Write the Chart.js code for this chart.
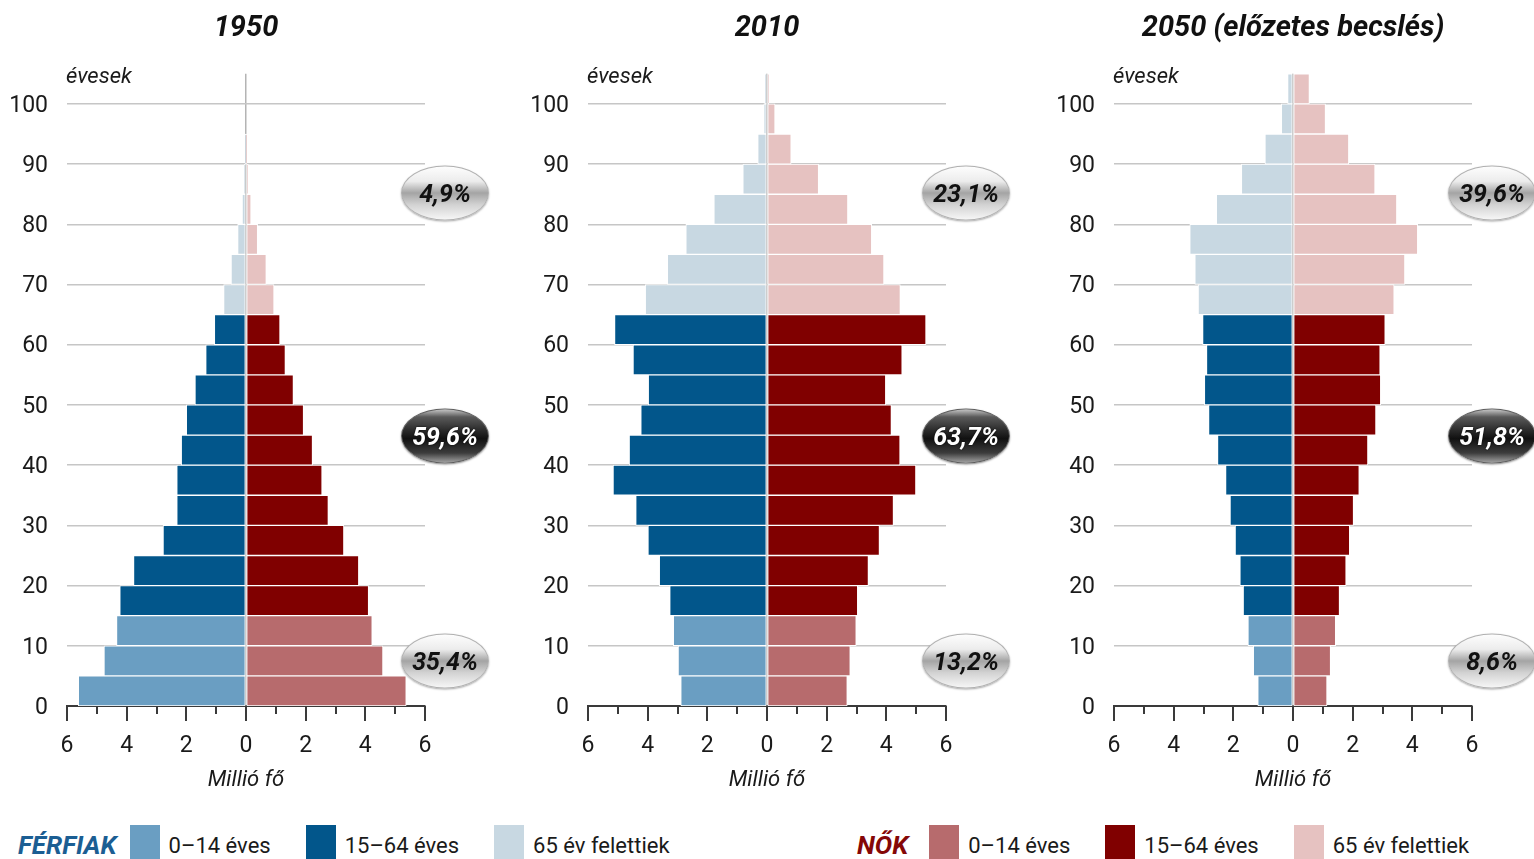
<!DOCTYPE html>
<html lang="hu">
<head>
<meta charset="utf-8">
<title>Korfa 1950, 2010, 2050</title>
<script src="https://cdn.jsdelivr.net/npm/chart.js@4.4.1/dist/chart.umd.min.js"></script>
<style>
  html, body { margin: 0; padding: 0; background: #fff; }
  body { position: relative; width: 1534px; height: 859px; overflow: hidden; font-family: Roboto, sans-serif; color: #1a1a1a; }
  canvas { position: absolute; top: 0; }
  .badge {
    position: absolute; width: 88px; height: 55px; border-radius: 50%;
    transform: translate(-50%, -50%); display: flex; align-items: center; justify-content: center;
    font: italic 700 25px Roboto, sans-serif; box-sizing: border-box;
  }
  .badge.light {
    background: linear-gradient(to bottom, #fdfdfd 0%, #ececec 28%, #a4a4a4 50%, #d2d2d2 72%, #f6f6f6 100%);
    border: 1px solid #b0b0b0; color: #111; box-shadow: 0 1px 2px rgba(0,0,0,.35);
  }
  .badge.dark {
    background: linear-gradient(to bottom, #c4c4c4 0%, #5a5a5a 14%, #262626 42%, #111 55%, #3c3c3c 82%, #a0a0a0 100%);
    border: 1px solid #5e5e5e; color: #fff; box-shadow: 0 1px 2px rgba(0,0,0,.45);
    text-shadow: 0 0 2px #000;
  }
  .legend { position: absolute; top: 825px; height: 34px; display: flex; align-items: flex-start; font-size: 22px; }
  .legend b { font: italic 700 26px Roboto, sans-serif; margin-right: 13px; padding-top: 5px; }
  .legend i { display: inline-block; width: 30px; height: 34px; margin-right: 9px; }
  .legend span { margin-right: 35px; padding-top: 8px; }
</style>
</head>
<body>
<canvas id="c0" width="492" height="796" style="left:0px"></canvas>
<canvas id="c1" width="492" height="796" style="left:521px"></canvas>
<canvas id="c2" width="492" height="796" style="left:1047px"></canvas>

<div class="legend" style="left:18px">
  <b style="color:#1b5e93">FÉRFIAK</b>
  <i style="background:#6a9ec2"></i><span>0–14 éves</span>
  <i style="background:#02568b"></i><span>15–64 éves</span>
  <i style="background:#c8d8e2"></i><span>65 év felettiek</span>
</div>
<div class="legend" style="left:857px">
  <b style="color:#850707; margin-right:21px">NŐK</b>
  <i style="background:#b76b6d"></i><span>0–14 éves</span>
  <i style="background:#800000"></i><span>15–64 éves</span>
  <i style="background:#e6c2c1"></i><span>65 év felettiek</span>
</div>

<script>
// age groups (start of each 5-year band), 100 = 100+
const ageStarts = [0, 5, 10, 15, 20, 25, 30, 35, 40, 45, 50, 55, 60, 65, 70, 75, 80, 85, 90, 95, 100];
const titles = ['1950', '2010', '2050 (előzetes becslés)'];

// million persons per band
const male1950   = [5.62, 4.76, 4.34, 4.23, 3.77, 2.78, 2.32, 2.32, 2.17, 2.00, 1.71, 1.35, 1.06, 0.75, 0.50, 0.28, 0.13, 0.06, 0.01, 0, 0];
const female1950 = [5.37, 4.59, 4.23, 4.11, 3.78, 3.28, 2.76, 2.55, 2.23, 1.93, 1.59, 1.32, 1.14, 0.94, 0.68, 0.39, 0.17, 0.08, 0.01, 0, 0];
const male2010   = [2.89, 2.98, 3.14, 3.26, 3.61, 3.99, 4.40, 5.16, 4.62, 4.23, 3.98, 4.49, 5.11, 4.08, 3.34, 2.72, 1.78, 0.81, 0.31, 0.11, 0.08];
const female2010 = [2.69, 2.79, 2.99, 3.04, 3.40, 3.77, 4.24, 4.99, 4.46, 4.17, 3.98, 4.53, 5.33, 4.47, 3.92, 3.51, 2.71, 1.73, 0.81, 0.27, 0.06];
const male2050   = [1.18, 1.33, 1.51, 1.67, 1.78, 1.94, 2.11, 2.26, 2.53, 2.83, 2.97, 2.90, 3.03, 3.18, 3.29, 3.46, 2.57, 1.73, 0.94, 0.39, 0.18];
const female2050 = [1.14, 1.26, 1.43, 1.56, 1.78, 1.90, 2.03, 2.22, 2.51, 2.78, 2.94, 2.92, 3.09, 3.39, 3.75, 4.18, 3.48, 2.75, 1.87, 1.09, 0.55];

// share of 65+, 15-64, 0-14
const shares1950 = ['4,9%', '59,6%', '35,4%'];
const shares2010 = ['23,1%', '63,7%', '13,2%'];
const shares2050 = ['39,6%', '51,8%', '8,6%'];

const xTicks = [-6, -4, -2, 0, 2, 4, 6];
const yTicks = [0, 10, 20, 30, 40, 50, 60, 70, 80, 90, 100];

const maleCols = ['#6a9ec2', '#02568b', '#c8d8e2'];
const femaleCols = ['#b76b6d', '#800000', '#e6c2c1'];

function grp(i) { return i < 3 ? 0 : (i < 13 ? 1 : 2); }

// minor tick marks on x axis + "évesek" label
const extras = {
  id: 'extras',
  afterDraw(chart) {
    const { ctx, chartArea, scales } = chart;
    ctx.save();
    ctx.strokeStyle = '#3a3a3a';
    ctx.lineWidth = 2;
    for (let v = -6; v <= 6; v++) {
      const px = Math.round(scales.x.getPixelForValue(v));
      ctx.beginPath();
      ctx.moveTo(px, chartArea.bottom);
      ctx.lineTo(px, chartArea.bottom + (v % 2 === 0 ? 15 : 8));
      ctx.stroke();
    }
    ctx.fillStyle = '#1a1a1a';
    ctx.font = 'italic 400 22px Roboto';
    ctx.textBaseline = 'alphabetic';
    ctx.textAlign = 'left';
    ctx.fillText('évesek', chartArea.left - 1, chartArea.top + 9);
    ctx.restore();
  }
};

function makePyramid(id, title, male, female, shares) {
  const c = document.getElementById(id);
  const chart = new Chart(c, {
    type: 'bar',
    data: {
      datasets: [
        { label: 'Férfiak', data: ageStarts.map((a, i) => ({ x: -male[i], y: a + 2.5 })),
          backgroundColor: male.map((v, i) => maleCols[grp(i)]) },
        { label: 'Nők', data: ageStarts.map((a, i) => ({ x: female[i], y: a + 2.5 })),
          backgroundColor: female.map((v, i) => femaleCols[grp(i)]) }
      ]
    },
    options: {
      indexAxis: 'y',
      responsive: false,
      animation: false,
      layout: { padding: { left: 0, right: 67, bottom: 0, top: 0 } },
      datasets: { bar: { grouped: false, barPercentage: 1, categoryPercentage: 1,
        borderColor: '#ffffff', borderWidth: 1, borderSkipped: false } },
      plugins: {
        legend: { display: false },
        tooltip: { enabled: false },
        title: { display: true, text: title, fullSize: false, color: '#111',
          font: { family: 'Roboto', size: 29, weight: 'bold', style: 'italic', lineHeight: 1.2 },
          padding: { top: 11, bottom: 28 } }
      },
      scales: {
        x: {
          type: 'linear', min: -6, max: 6,
          afterBuildTicks: s => { s.ticks = xTicks.map(v => ({ value: v })); },
          ticks: { padding: 26, color: '#1a1a1a', font: { family: 'Roboto', size: 23 },
            callback: v => Math.abs(v) },
          grid: { drawTicks: false, lineWidth: 1.5,
            color: c => (c.tick && c.tick.value === 0) ? '#b4b4b4' : 'rgba(0,0,0,0)' },
          border: { display: true, color: '#3a3a3a', width: 2 },
          title: { display: true, text: 'Millió fő', color: '#1a1a1a',
            font: { family: 'Roboto', size: 22, style: 'italic' }, padding: { top: 0, bottom: 2 } },
          afterFit: s => { s.height = 90; }
        },
        y: {
          type: 'linear', min: 0, max: 105, offset: false,
          afterBuildTicks: s => { s.ticks = yTicks.map(v => ({ value: v })); },
          ticks: { padding: 19, labelOffset: 2, color: '#1a1a1a', font: { family: 'Roboto', size: 23 } },
          grid: { offset: false, drawTicks: false, color: '#c6c6c6', lineWidth: 1.5 },
          border: { display: false },
          afterFit: s => { s.width = 67; }
        }
      }
    },
    plugins: [extras]
  });

  // percentage badges to the right of the plot
  const ca = chart.chartArea;
  const left = parseFloat(c.style.left);
  const ys = [85.2, 44.9, 7.5];
  const kinds = ['light', 'dark', 'light'];
  shares.forEach((s, k) => {
    const d = document.createElement('div');
    d.className = 'badge ' + kinds[k];
    d.textContent = s;
    d.style.left = (left + ca.right + 20) + 'px';
    d.style.top = chart.scales.y.getPixelForValue(ys[k]) + 'px';
    document.body.appendChild(d);
  });
  return chart;
}

makePyramid('c0', titles[0], male1950, female1950, shares1950);
makePyramid('c1', titles[1], male2010, female2010, shares2010);
makePyramid('c2', titles[2], male2050, female2050, shares2050);
</script>
</body>
</html>
